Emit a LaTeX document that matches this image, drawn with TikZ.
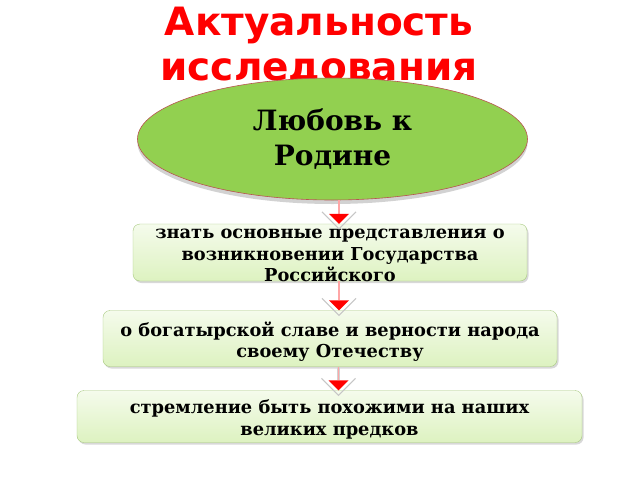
\documentclass[tikz,border=0pt]{standalone}
\usepackage{fontspec}
\setmainfont{DejaVu Serif}
\newfontfamily\headfont{DejaVu Sans}
\usetikzlibrary{shapes.geometric}
\usetikzlibrary{shadows}
\definecolor{leaf}{HTML}{92D050}
\definecolor{rim}{HTML}{B85450}
\definecolor{mint}{HTML}{DDF2C0}
\definecolor{mintrim}{HTML}{A7C97E}
\tikzstyle{oval}=[ellipse, draw=rim, fill=leaf, line width=.6pt, minimum width=390pt, minimum height=122pt, drop shadow={shadow xshift=0pt, shadow yshift=-4pt, opacity=.35}, align=center, font=\bfseries\fontsize{28}{35}\selectfont]
\tikzstyle{panel}=[rectangle, rounded corners=7pt, draw=mintrim, top color=white!70!mint, bottom color=mint, drop shadow={shadow xshift=1.5pt, shadow yshift=-2pt, opacity=.3}]
\tikzstyle{caption}=[inner sep=0, yshift=-3pt, align=center, font=\bfseries\fontsize{17.8}{21.5}\selectfont]
\tikzstyle{stem}=[draw=gray!35, double=red!35, double distance=1.4pt]

\begin{document}
\begin{tikzpicture}[x=1pt, y=-1pt]
    \path[use as bounding box, fill=white] (0,0) rectangle (640,480);

    \node[text=red, align=center, font=\headfont\bfseries\fontsize{39}{45}\selectfont] (title) at (319,46) {Актуальность\\исследования};
    \node[oval] (love) at (332.5,139) {Любовь к\\Родине};

    \node[panel, minimum width=394pt, minimum height=57pt] (know) at (330,252.5) {};
    \node[panel, minimum width=454pt, minimum height=56pt] (glory) at (330,338.5) {};
    \node[panel, minimum width=505pt, minimum height=52pt] (strive) at (329.5,416.5) {};

    \node[caption] at (know) {знать основные представления о\\возникновении Государства\\Российского};
    \node[caption] at (glory) {о богатырской славе и верности народа\\своему Отечеству};
    \node[caption] at (strive) {стремление быть похожими на наших\\великих предков};

      \foreach \a/\b in {love/know, know/glory, glory/strive}{
        \coordinate (tip) at ([xshift=9pt]\b.north);
        \draw[stem] (tip |- \a.south) -- ([yshift=10pt]tip);
        \draw[gray!45, line width=1pt] (tip) ++(-17,-12) -- ++(17,17) -- ++(17,-17);
        \fill[red] (tip) -- ++(-10,-10) -- ++(20,0) -- cycle;
        }

    \end{tikzpicture}
\end{document}
